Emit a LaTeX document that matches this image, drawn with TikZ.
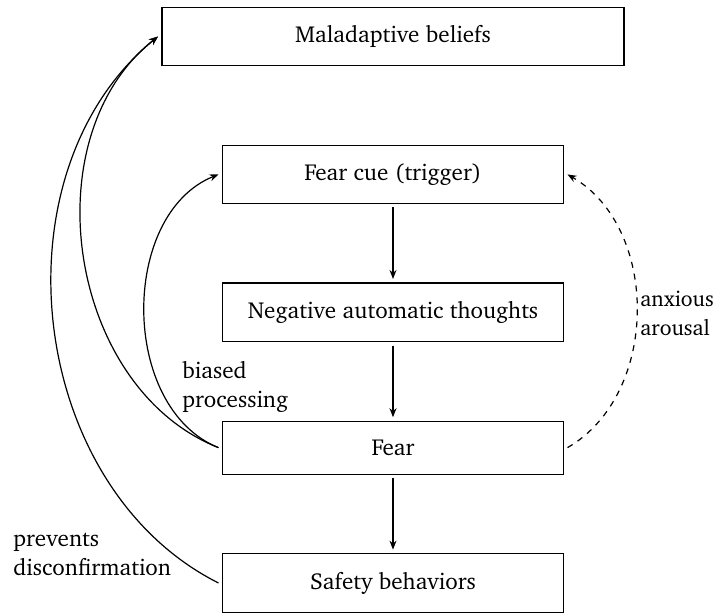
\documentclass[tikz,border=0pt]{standalone}
\usepackage[T1]{fontenc}
\usepackage{charter}
\usetikzlibrary{positioning,arrows.meta}

\begin{document}
\begin{tikzpicture}[
        font=\fontsize{11.55pt}{14.5pt}\selectfont,
        box/.style={draw, line width=0.6pt, minimum width=170.5pt, inner ysep=9.2pt, outer sep=2pt},
        lbl/.style={align=left, inner sep=0pt, anchor=west},
        >={Stealth[length=4.5pt,width=3.5pt]},
        node distance=35.75pt
    ]
            \useasboundingbox (-196.5pt,18.25pt) rectangle (161.5pt,-287.75pt);

            \node[box, minimum width=231pt] (beliefs) at (0,0) {Maladaptive beliefs};
            \node[box, below=of beliefs] (cue) {Fear cue (trigger)};
            \node[box, below=of cue] (thoughts) {Negative automatic thoughts};
            \node[box, below=of thoughts] (fear) {Fear};
            \node[box, below=of fear] (safety) {Safety behaviors};

            \draw[semithick,->] (cue) -- (thoughts);
            \draw[semithick,->] (thoughts) -- (fear);
            \draw[semithick,->] (fear) -- (safety);

            \draw[semithick,->] (fear.west) to[bend left=68] (cue.west);
            \draw[semithick,->] (fear.west) to[bend left=60] (beliefs.west);
            \draw[semithick,->] (safety.west) to[bend left=57] (beliefs.west);
            \draw[semithick,->,dashed] (fear.east) to[bend right=60] (cue.east);

            \node[lbl] (biased) at (-105.5pt,-175pt) {biased\\processing};
            \node[lbl] (prevents) at (-190pt,-259.25pt) {prevents\\disconfirmation};
            \node[lbl, font=\fontsize{10.9pt}{14.5pt}\selectfont] (arousal) at (123.5pt,-138.25pt) {anxious\\arousal};
        \end{tikzpicture}
\end{document}
